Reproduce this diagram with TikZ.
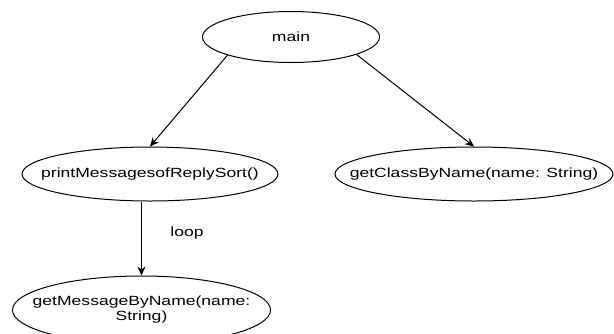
\documentclass[tikz,border=0pt]{standalone}
\usepackage{fontspec}
\setmainfont{Liberation Sans}
\usetikzlibrary{shapes.geometric,arrows.meta}
\newcommand{\widetxt}[1]{\makebox[0pt][c]{\scalebox{1.32}[1]{#1}}}
\begin{document}
\begin{tikzpicture}[x=1pt,y=-1pt,
  oval/.style={ellipse,draw,line width=1pt,inner sep=0pt,font=\fontsize{13.3}{15}\selectfont,align=center},
  conn/.style={line width=1pt,-{Stealth[length=9pt,width=8pt,inset=3pt]}},
  lbl/.style={font=\fontsize{13.3}{15}\selectfont,inner sep=0pt}]
\useasboundingbox (0,0) rectangle (614,333);
\node[oval,minimum width=177pt,minimum height=51pt] (main) at (291,37) {\widetxt{main}};
\node[oval,minimum width=256pt,minimum height=54pt] (pm) at (150,174) {\widetxt{printMessagesofReplySort()}};
\node[oval,minimum width=278pt,minimum height=54pt] (gc) at (474,174) {\widetxt{getClassByName(name: String)}};
\node[oval,minimum width=258pt,minimum height=68pt] (gm) at (141.5,310) {\widetxt{getMessageByName(name:}\\\widetxt{String)}};
\node[lbl] (loop) at (187,233) {\widetxt{loop}};
\draw[conn] (main.196) -- (pm.north);
\draw[conn] (main.345) -- (gc.north);
\draw[conn] (gm.north |- pm.south) -- (gm.north);
\end{tikzpicture}
\end{document}
